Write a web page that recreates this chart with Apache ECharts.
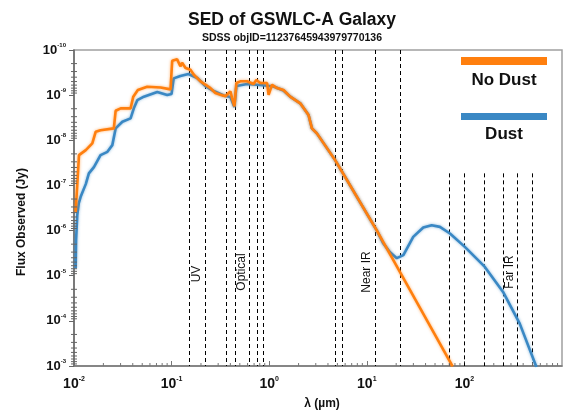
<!DOCTYPE html>
<html>
<head>
<meta charset="utf-8">
<script src="https://cdn.jsdelivr.net/npm/echarts@6/dist/echarts.min.js"></script>
<style>html,body{margin:0;padding:0;background:#fff;}#chart{width:571px;height:412px;}</style>
</head>
<body>
<div id="chart"></div>
<script>
// wavelength in µm, flux in Jy
const lambdaNoDust = [0.0104,0.01125,0.0132,0.0154,0.0167,0.0187,0.0256,0.0267,0.0301,0.0380,0.0405,0.0451,0.0562,0.0771,0.0975,0.1014,0.105,0.114,0.123,0.128,0.139,0.156,0.169,0.198,0.222,0.250,0.281,0.316,0.356,0.400,0.417,0.440,0.461,0.506,0.593,0.692,0.738,0.811,0.951,0.986,1.07,1.20,1.40,1.64,2.08,2.53,2.74,3.08,4.74,12.6,75.7];
const fluxNoDust = [3.85e-7,2.13e-8,1.65e-8,1.17e-8,6.46e-9,5.97e-9,5.45e-9,2.22e-9,1.96e-9,1.96e-9,1.08e-9,7.71e-10,6.52e-10,6.76e-10,7.45e-10,1.73e-10,1.64e-10,1.61e-10,2.30e-10,1.91e-10,2.51e-10,2.74e-10,3.53e-10,4.94e-10,5.87e-10,6.97e-10,8.97e-10,9.80e-10,1.06e-9,8.24e-10,1.16e-9,1.77e-9,5.40e-10,4.94e-10,4.94e-10,5.68e-10,4.62e-10,5.40e-10,5.40e-10,9.8e-10,5.87e-10,6.97e-10,7.71e-10,1.08e-9,1.52e-9,2.76e-9,5.45e-9,7.03e-9,2.75e-8,9.79e-7,1.02e-3];
const lambdaDust = [0.0104,0.0105,0.0108,0.0112,0.0117,0.0132,0.0142,0.0160,0.0187,0.0220,0.0247,0.0267,0.0313,0.0380,0.0410,0.0445,0.0520,0.0713,0.0902,0.0998,0.105,0.123,0.149,0.183,0.222,0.270,0.342,0.400,0.440,0.461,0.593,0.811,1.11,1.40,1.64,2.08,2.53,2.74,3.08,4.74,12.6,14.7,17.3,20.3,23.7,29.9,37.9,46.2,56.1,71.1,101,162,249,369,547];
const fluxDust = [6.82e-6,1.63e-6,4.56e-7,2.47e-7,1.79e-7,9.35e-8,5.42e-8,3.93e-8,2.13e-8,1.80e-8,1.28e-8,5.45e-9,3.89e-9,3.27e-9,1.96e-9,1.29e-9,1.08e-9,8.53e-10,9.95e-10,9.46e-10,4.25e-10,3.77e-10,3.40e-10,4.18e-10,6.28e-10,8.11e-10,1.02e-9,1.10e-9,1.84e-9,6.28e-10,5.68e-10,5.97e-10,6.44e-10,7.91e-10,1.08e-9,1.52e-9,2.76e-9,5.45e-9,7.03e-9,2.75e-8,9.79e-7,1.90e-6,3.01e-6,4.09e-6,3.51e-6,1.38e-6,8.53e-7,7.59e-7,8.28e-7,1.16e-6,2.30e-6,6.38e-6,2.29e-5,1.15e-4,1.05e-3];
// filter band wavelengths (µm)
const bandLines = [0.152,0.222,0.36,0.45,0.62,0.755,0.87,4.7,5.6,12.3,22];
const farIRLines = [70,100,160,250,350,500];
const farIRTop = 5.4e-8;
const bandNames = ['UV','Optical','Near IR','Far IR'];
const seriesNames = ['No Dust','Dust'];
const xMin = 0.01, xMax = 1000, yMin = 1e-10, yMax = 1e-3;

const ORANGE = '#FF7F0E', BLUE = '#3A88C4';
const FONT = '"Liberation Sans", Arial, sans-serif';

const minorX = [], minorY = [];
for (let e = -2; e < 3; e++) for (let m = 2; m <= 9; m++) minorX.push(m * Math.pow(10, e));
for (let e = -10; e < -3; e++) for (let m = 2; m <= 9; m++) minorY.push(m * Math.pow(10, e));

function pow10Label(v) {
  const e = Math.round(Math.log10(v));
  return '{b|10}{s|' + e + '}';
}

const vLines = [];
bandLines.forEach(l => vLines.push([{coord: [l, yMin]}, {coord: [l, yMax]}]));
farIRLines.forEach(l => vLines.push([{coord: [l, farIRTop]}, {coord: [l, yMax]}]));

const chart = echarts.init(document.getElementById('chart'), null, {renderer: 'canvas'});
chart.setOption({
  animation: false,
  backgroundColor: '#fff',
  grid: {left: 74, right: 9, top: 50, bottom: 46, show: true, borderColor: '#a0a0a0', borderWidth: 1.5},
  xAxis: {
    type: 'log', logBase: 10, min: xMin, max: xMax, interval: 1,
    axisLine: {lineStyle: {color: '#777', width: 1.5}},
    axisTick: {inside: true, length: 5, lineStyle: {color: '#777'}},
    splitLine: {show: false},
    axisLabel: {
      margin: 10, formatter: pow10Label, showMaxLabel: false,
      rich: {
        b: {fontFamily: FONT, fontSize: 14, fontWeight: 'bold', color: '#111', lineHeight: 16},
        s: {fontFamily: FONT, fontSize: 7, fontWeight: 'bold', color: '#111', verticalAlign: 'top', lineHeight: 8}
      }
    }
  },
  yAxis: {
    type: 'log', logBase: 10, min: yMin, max: yMax, interval: 1, inverse: true,
    axisLine: {lineStyle: {color: '#666', width: 1.5}},
    axisTick: {inside: false, length: 5, lineStyle: {color: '#666'}},
    splitLine: {show: false},
    axisLabel: {
      margin: 8, formatter: pow10Label,
      rich: {
        b: {fontFamily: FONT, fontSize: 13, fontWeight: 'bold', color: '#111', lineHeight: 15},
        s: {fontFamily: FONT, fontSize: 6, fontWeight: 'bold', color: '#111', verticalAlign: 'top', lineHeight: 7}
      }
    }
  },
  series: [
    {
      name: seriesNames[1], type: 'line', showSymbol: false, symbol: 'none',
      data: lambdaDust.map((l, i) => [l, fluxDust[i]]),
      lineStyle: {color: BLUE, width: 2.6, shadowColor: 'rgba(58,136,196,0.6)', shadowBlur: 3},
      z: 3
    },
    {
      name: seriesNames[0], type: 'line', showSymbol: false, symbol: 'none',
      data: lambdaNoDust.map((l, i) => [l, fluxNoDust[i]]),
      lineStyle: {color: ORANGE, width: 2.6, shadowColor: 'rgba(255,127,14,0.6)', shadowBlur: 3},
      z: 4,
      markLine: {
        silent: true, symbol: ['none', 'none'], label: {show: false},
        lineStyle: {color: '#000', width: 1, type: [4, 3]},
        emphasis: {disabled: true},
        data: vLines, z: 2
      }
    },
    {
      type: 'custom', silent: true, clip: false, z: 5,
      data: minorX.map(v => [v, yMax]),
      renderItem: function (params, api) {
        const p = api.coord([api.value(0), api.value(1)]);
        return {type: 'line', shape: {x1: p[0], y1: p[1], x2: p[0], y2: p[1] - 3}, style: {stroke: '#777', lineWidth: 1}};
      }
    },
    {
      type: 'custom', silent: true, clip: false, z: 5,
      data: minorY.map(v => [xMin, v]),
      renderItem: function (params, api) {
        const p = api.coord([api.value(0), api.value(1)]);
        return {type: 'line', shape: {x1: p[0] - 3, y1: p[1], x2: p[0] + 3, y2: p[1]}, style: {stroke: '#666', lineWidth: 1}};
      }
    }
  ],
  graphic: [
    {type: 'text', x: 292, y: 20, style: {text: 'SED of GSWLC-A Galaxy', font: 'bold 17.5px ' + FONT, fill: '#111', align: 'center', verticalAlign: 'middle'}},
    {type: 'text', x: 292, y: 38, style: {text: 'SDSS objID=11237645943979770136', font: 'bold 10.5px ' + FONT, fill: '#111', align: 'center', verticalAlign: 'middle'}},
    {type: 'text', x: 22, y: 222, rotation: Math.PI / 2, style: {text: 'Flux Observed (Jy)', font: 'bold 12px ' + FONT, fill: '#111', align: 'center', verticalAlign: 'middle'}},
    {type: 'text', x: 322, y: 404, style: {text: 'λ (µm)', font: 'bold 12px ' + FONT, fill: '#111', align: 'center', verticalAlign: 'middle'}},
    {type: 'rect', shape: {x: 461, y: 57, width: 86, height: 8}, style: {fill: ORANGE}},
    {type: 'text', x: 504, y: 80, style: {text: seriesNames[0], font: 'bold 17px ' + FONT, fill: '#111', align: 'center', verticalAlign: 'middle'}},
    {type: 'rect', shape: {x: 461, y: 113, width: 86, height: 7}, style: {fill: BLUE}},
    {type: 'text', x: 504, y: 134, style: {text: seriesNames[1], font: 'bold 17px ' + FONT, fill: '#111', align: 'center', verticalAlign: 'middle'}},
    {type: 'text', x: 197, y: 274, rotation: Math.PI / 2, style: {text: bandNames[0], font: '12px ' + FONT, fill: '#111', align: 'center', verticalAlign: 'middle'}},
    {type: 'text', x: 242, y: 272, rotation: Math.PI / 2, style: {text: bandNames[1], font: '12px ' + FONT, fill: '#111', align: 'center', verticalAlign: 'middle'}},
    {type: 'text', x: 367, y: 272, rotation: Math.PI / 2, style: {text: bandNames[2], font: '12px ' + FONT, fill: '#111', align: 'center', verticalAlign: 'middle'}},
    {type: 'text', x: 510, y: 272, rotation: Math.PI / 2, style: {text: bandNames[3], font: '12px ' + FONT, fill: '#111', align: 'center', verticalAlign: 'middle'}}
  ]
});
</script>
</body>
</html>
